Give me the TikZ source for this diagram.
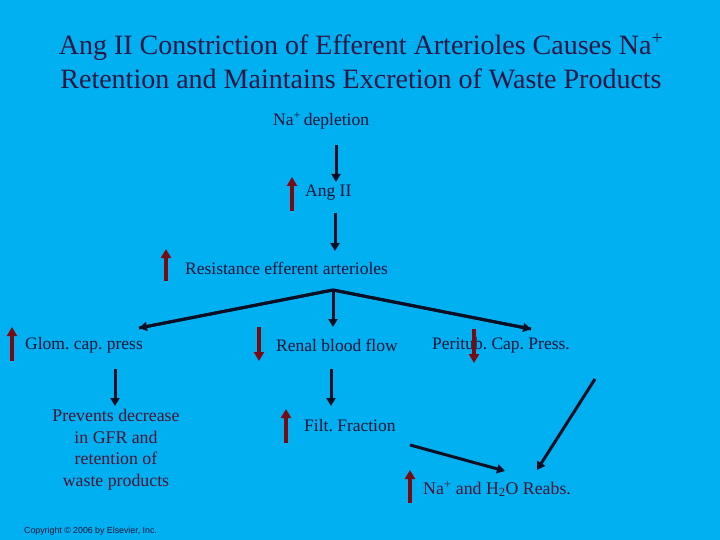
\documentclass[tikz,border=0pt]{standalone}
\usepackage{fontspec}
\setmainfont{Liberation Serif}
\newfontfamily\cpfont{Liberation Sans}
\usetikzlibrary{arrows.meta}
\frenchspacing
\definecolor{bgblue}{HTML}{00B0F0}
\definecolor{navy}{HTML}{0A1438}
\definecolor{titlecol}{HTML}{2A1645}
\definecolor{maroontxt}{HTML}{451434}
\definecolor{arrred}{HTML}{7A0A12}
\definecolor{arrblack}{HTML}{0A0F24}
\tikzset{
  lbl/.style={text=navy, font=\fontsize{17.5}{20}\selectfont, inner sep=0pt, anchor=west},
  mlbl/.style={text=maroontxt, font=\fontsize{17.8}{21.5}\selectfont, inner sep=0pt},
  ttl/.style={text=titlecol, font=\fontsize{28}{32}\selectfont, inner sep=0pt},
  blk/.style={draw=arrblack, line width=3pt, -{Triangle[width=9pt,length=8pt]}},
  redarr/.style={draw=arrred, line width=4pt, -{Triangle[width=10pt,length=9pt]}},
}
\begin{document}
\begin{tikzpicture}[x=1pt,y=-1pt]
\fill[bgblue] (0,0) rectangle (720,540);
\useasboundingbox (0,0) rectangle (720,540);

% title
\node[ttl] (t1) at (361,47) {Ang II Constriction of Efferent Arterioles Causes Na\textsuperscript{+}};
\node[ttl] (t2) at (361,79) {Retention and Maintains Excretion of Waste Products};

% labels
\node[lbl] (nadep) at (273,121) {Na\textsuperscript{+}\,depletion};
\node[lbl] (ang) at (305,193) {Ang II};
\node[lbl] (res) at (185,268) {Resistance efferent arterioles};
\node[lbl] (glom) at (25,345) {Glom. cap. press};
\node[lbl] (rbf) at (276,345) {Renal blood flow};
\node[lbl] (ptc) at (432,345) {Peritub. Cap. Press.};
\node[lbl] (ff) at (304,426) {Filt. Fraction};
\node[mlbl, align=center] (prev) at (116,449.5) {Prevents decrease\\in GFR and\\retention of\\waste products};
\node[mlbl, anchor=west] (reabs) at (423,489) {Na\textsuperscript{+} and H\textsubscript{2}O Reabs.};
\node[text=navy, font=\cpfont\fontsize{8.8}{10}\selectfont, anchor=west, inner sep=0pt] (copy) at (24,531) {Copyright © 2006 by Elsevier, Inc.};

% coordinates for arrow ends
\coordinate (a1s) at (336,145); \coordinate (a1e) at (336,182);
\coordinate (a2s) at (335,213); \coordinate (a2e) at (335,251);
\coordinate (br) at (333,290);
\coordinate (brL) at (139,328); \coordinate (brM) at (333,327); \coordinate (brR) at (531,329);
\coordinate (g1s) at (115,369); \coordinate (g1e) at (115,406);
\coordinate (r1s) at (331,369); \coordinate (r1e) at (331,406);
\coordinate (f1s) at (410,445); \coordinate (f1e) at (505,471);
\coordinate (p1s) at (595,379); \coordinate (p1e) at (537,470);

% black arrows
\draw[draw=arrblack, line width=3pt, line join=round] (brL) -- (br) -- (brR);
\draw[blk] (a1s) -- (a1e);
\draw[blk] (a2s) -- (a2e);
\draw[blk] (br) -- (brL);
\draw[blk] (br) -- (brR);
\draw[blk] (br) -- (brM);
\draw[blk] (g1s) -- (g1e);
\draw[blk] (r1s) -- (r1e);
\draw[blk] (f1s) -- (f1e);
\draw[blk] (p1s) -- (p1e);

% red arrows
\coordinate (ua1s) at (292,211); \coordinate (ua1e) at (292,177);
\coordinate (ua2s) at (166,281); \coordinate (ua2e) at (166,249);
\coordinate (ua3s) at (12,361); \coordinate (ua3e) at (12,327);
\coordinate (da1s) at (259,327); \coordinate (da1e) at (259,361);
\coordinate (da2s) at (474,329); \coordinate (da2e) at (474,363);
\coordinate (ua4s) at (286,443); \coordinate (ua4e) at (286,409);
\coordinate (ua5s) at (410,503); \coordinate (ua5e) at (410,470);
\draw[redarr] (ua1s) -- (ua1e);
\draw[redarr] (ua2s) -- (ua2e);
\draw[redarr] (ua3s) -- (ua3e);
\draw[redarr] (da1s) -- (da1e);
\draw[redarr] (da2s) -- (da2e);
\draw[redarr] (ua4s) -- (ua4e);
\draw[redarr] (ua5s) -- (ua5e);
\end{tikzpicture}
\end{document}
